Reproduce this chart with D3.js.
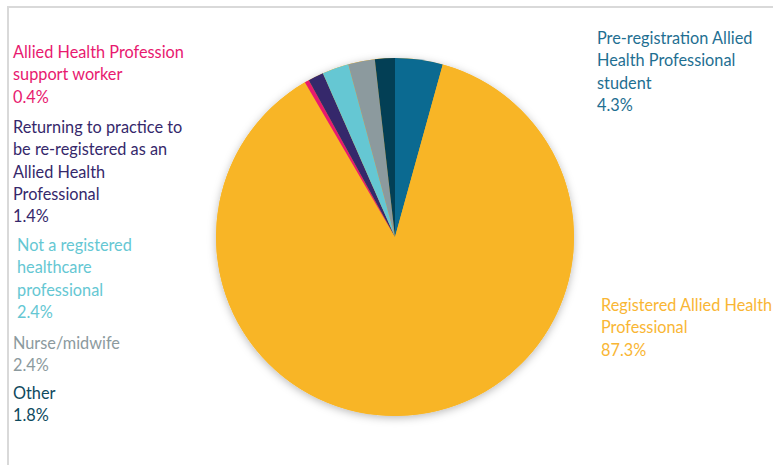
<!DOCTYPE html>
<html><head><meta charset="utf-8">
<script src="https://cdn.jsdelivr.net/npm/d3@7"></script>
<style>body{margin:0;background:#fff;}svg{display:block;font-family:Lato, "Open Sans", sans-serif;}</style>
</head><body>
<script>
const categories = ["Pre-registration Allied Health Professional student","Registered Allied Health Professional","Allied Health Profession support worker","Returning to practice to be re-registered as an Allied Health Professional","Not a registered healthcare professional","Nurse/midwife","Other"];
const values = [4.3, 87.3, 0.4, 1.4, 2.4, 2.4, 1.8];
const valueLabels = ["4.3%","87.3%","0.4%","1.4%","2.4%","2.4%","1.8%"];
const labelLines = [
  ["Pre-registration Allied","Health Professional","student"],
  ["Registered Allied Health","Professional"],
  ["Allied Health Profession","support worker"],
  ["Returning to practice to","be re-registered as an","Allied Health","Professional"],
  ["Not a registered","healthcare","professional"],
  ["Nurse/midwife"],
  ["Other"]
];
const colors = ["#0b6a91","#f8b526","#e8196f","#35286b","#65c7d3","#8c9a9e","#033f55"];
const textColors = ["#1f6f92","#f9b634","#e8196f","#35286b","#65c7d3","#8c9a9e","#0e4a5e"];
const labelPos = [[597,44],[601,311],[13,58],[13,133],[17,251],[13,349],[13,399]];

const W=773,H=465;
const svg=d3.select("body").append("svg").attr("width",W).attr("height",H);
const defs=svg.append("defs");
const f=defs.append("filter").attr("id","sh").attr("x","-20%").attr("y","-20%").attr("width","140%").attr("height","140%");
f.append("feDropShadow").attr("dx",0).attr("dy",2).attr("stdDeviation",4).attr("flood-color","#000").attr("flood-opacity",0.28);

svg.append("path").attr("d",`M8,${H+5} L8,7 L${W+5},7`).attr("fill","none").attr("stroke","#d9d9d9").attr("stroke-width",2);

const cx=395, cy=237, r=179;
const pie=d3.pie().sort(null).value(d=>d)(values);
const arc=d3.arc().innerRadius(0).outerRadius(r);
const g=svg.append("g").attr("transform",`translate(${cx},${cy})`);
g.append("circle").attr("r",r).attr("fill","#f8b526").attr("filter","url(#sh)");
g.selectAll("path.s").data(pie).join("path").attr("class","s").attr("d",arc).attr("fill",(d,i)=>colors[i]);

const lh=22.3;
labelLines.forEach((lines,i)=>{
  const t=svg.append("text").attr("x",labelPos[i][0]).attr("y",labelPos[i][1]).attr("fill",textColors[i]).attr("font-size","16.3px");
  lines.concat([valueLabels[i]]).forEach((ln,j)=>{
    t.append("tspan").attr("x",labelPos[i][0]).attr("y",labelPos[i][1]+j*lh).text(ln);
  });
});
</script>
</body></html>
